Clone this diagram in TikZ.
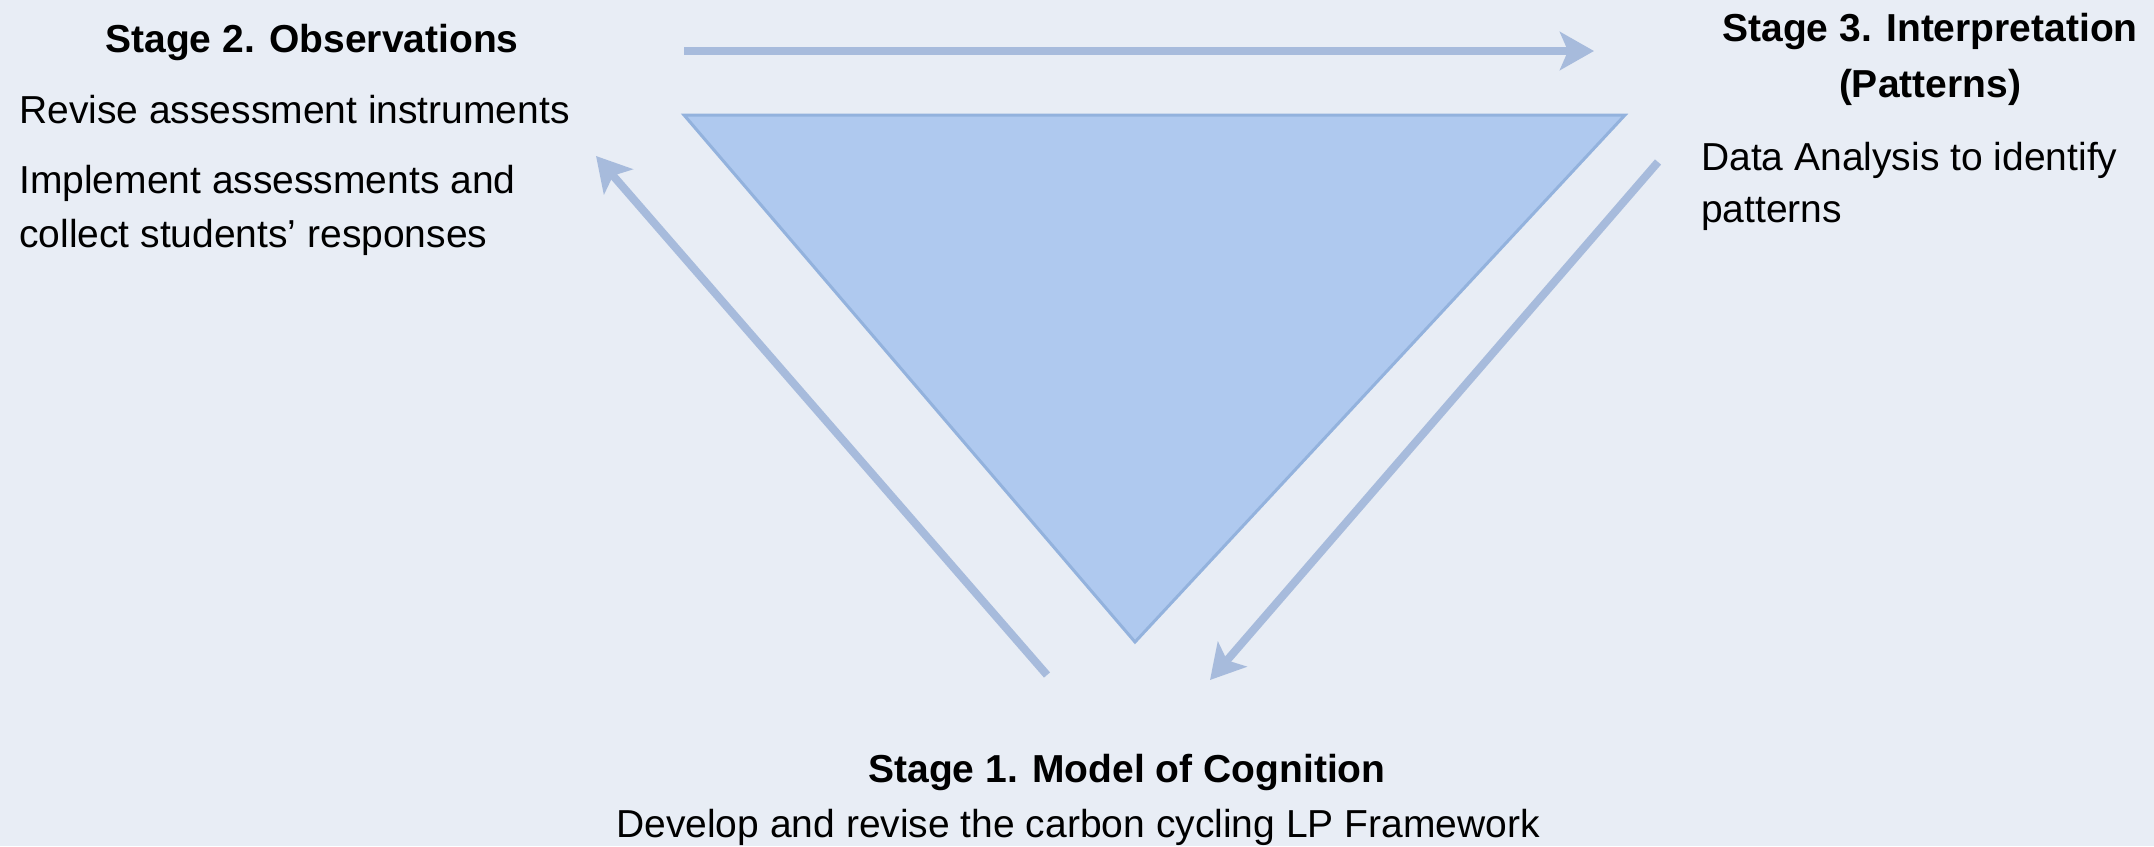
\documentclass[tikz,border=0pt]{standalone}
\usepackage{fontspec}
\setmainfont{Liberation Sans}
\usetikzlibrary{arrows.meta}
\definecolor{bg}{HTML}{E8EDF5}
\definecolor{trifill}{HTML}{AFC9EF}
\definecolor{triedge}{HTML}{93B2DD}
\definecolor{arr}{HTML}{A7BBDC}
\begin{document}
\begin{tikzpicture}[x=1pt,y=-1pt,
  txt/.style={inner sep=0pt, font=\fontsize{39}{49}\selectfont},
  hd/.style={inner sep=0pt, font=\fontsize{39}{49}\selectfont\bfseries},
  flow/.style={draw=arr, line width=8pt, -{Stealth[length=34pt,width=38pt,inset=8pt]}},
  tri/.style={fill=trifill, draw=triedge, line width=3pt, line join=miter}]
\fill[bg] (0,0) rectangle (2154,846);
\useasboundingbox (0,0) rectangle (2154,846);
% triangle
\coordinate (T1) at (684,115);
\coordinate (T2) at (1625,115);
\coordinate (T3) at (1135,642);
\draw[tri] (T1) -- (T2) -- (T3) -- cycle;
% arrows
\coordinate (tA) at (684,51);
\coordinate (tB) at (1594,51);
\coordinate (lA) at (1047,675);
\coordinate (lB) at (596,156);
\coordinate (rA) at (1658,162);
\coordinate (rB) at (1210,680);
\draw[flow] (tA) -- (tB);
\draw[flow] (lA) -- (lB);
\draw[flow] (rA) -- (rB);
% Stage 2
\node[hd, anchor=base] (s2h) at (312,52) {Stage 2. Observations};
\node[txt, anchor=base west] (s2a) at (19,123) {Revise assessment instruments};
\node[txt, anchor=base west] (s2b) at (19,193) {Implement assessments and};
\node[txt, anchor=base west] (s2c) at (19,247) {collect students’ responses};
% Stage 3
\node[hd, anchor=base] (s3h) at (1930,41) {Stage 3. Interpretation};
\node[hd, anchor=base] (s3p) at (1930,97) {(Patterns)};
\node[txt, anchor=base west] (s3a) at (1701,170) {Data Analysis to identify};
\node[txt, anchor=base west] (s3b) at (1701,222) {patterns};
% Stage 1
\node[hd, anchor=base] (s1h) at (1127,782) {Stage 1. Model of Cognition};
\node[txt, anchor=base] (s1a) at (1078,837) {Develop and revise the carbon cycling LP Framework};
\end{tikzpicture}
\end{document}
